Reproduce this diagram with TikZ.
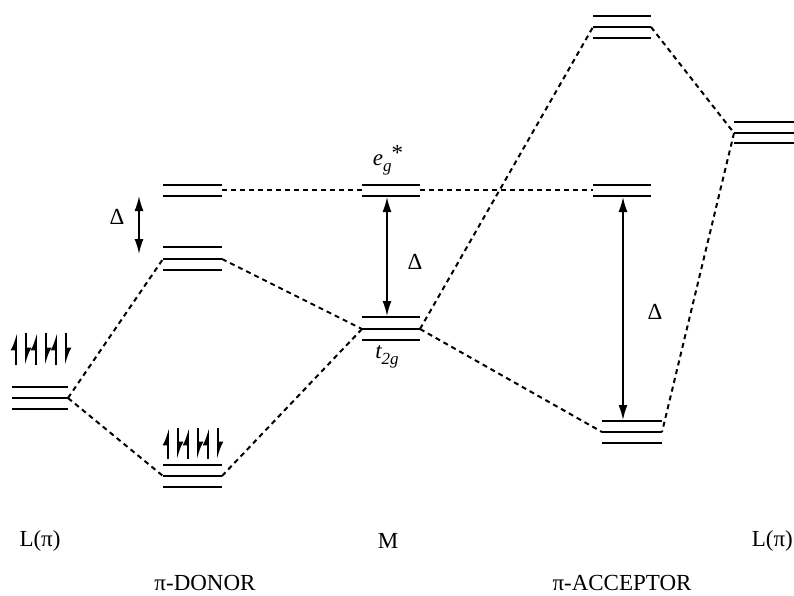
\documentclass[tikz,border=0pt]{standalone}
\usepackage{fontspec}
\setmainfont{Liberation Serif}
\usetikzlibrary{arrows.meta}
\begin{document}
\begin{tikzpicture}[x=1pt,y=-1pt,
  lvl/.style={line width=2pt},
  conn/.style={line width=2pt,dash pattern=on 5pt off 4pt},
  gap/.style={line width=1.6pt,{Latex[length=15pt,width=9pt]}-{Latex[length=15pt,width=9pt]}},
  elu/.style={line width=1.8pt,-{Latex[harpoon,length=14pt,width=11pt]}},
  eld/.style={line width=1.8pt,-{Latex[harpoon,length=14pt,width=11pt]}},
  lab/.style={font=\fontsize{23}{27}\selectfont,inner sep=0pt}]
\useasboundingbox (0,0) rectangle (794,596);
% levels
\foreach \y in {387,398,409} \draw[lvl] (12,\y) -- (68,\y);
\foreach \y in {185,196} \draw[lvl] (163,\y) -- (222,\y);
\foreach \y in {247,259,270} \draw[lvl] (163,\y) -- (222,\y);
\foreach \y in {465,476,487} \draw[lvl] (163,\y) -- (222,\y);
\foreach \y in {185,196} \draw[lvl] (362,\y) -- (420,\y);
\foreach \y in {317,329,340} \draw[lvl] (362,\y) -- (420,\y);
\foreach \y in {16,27,38} \draw[lvl] (593,\y) -- (651,\y);
\foreach \y in {185,196} \draw[lvl] (593,\y) -- (651,\y);
\foreach \y in {421,432,443} \draw[lvl] (602,\y) -- (662,\y);
\foreach \y in {122,133,143} \draw[lvl] (734,\y) -- (794,\y);
% connection points
\coordinate (LL) at (68,398);
\coordinate (DUr) at (222,190);
\coordinate (DMl) at (163,259);
\coordinate (DMr) at (222,259);
\coordinate (DBl) at (163,476);
\coordinate (DBr) at (222,476);
\coordinate (MEl) at (362,190);
\coordinate (MEr) at (420,190);
\coordinate (MTl) at (362,329);
\coordinate (MTr) at (420,329);
\coordinate (ATl) at (593,27);
\coordinate (ATr) at (651,27);
\coordinate (AEl) at (593,190);
\coordinate (ABl) at (602,432);
\coordinate (ABr) at (662,432);
\coordinate (RL) at (734,133);
% dashed connectors
\draw[conn] (LL) -- (DMl);
\draw[conn] (LL) -- (DBl);
\draw[conn] (DMr) -- (MTl);
\draw[conn] (DBr) -- (MTl);
\draw[conn,line width=1.4pt] (DUr) -- (MEl);
\draw[conn,line width=1.4pt] (MEr) -- (AEl);
\draw[conn] (MTr) -- (ATl);
\draw[conn] (MTr) -- (ABl);
\draw[conn] (ATr) -- (RL);
\draw[conn] (RL) -- (ABr);
% electrons
\foreach \x in {16,36,56} {
  \draw[elu] (\x,365) -- (\x,333);
  \draw[eld] (\x+10,333) -- (\x+10,365);
}
\foreach \x in {168,188,208} {
  \draw[elu] (\x,459) -- (\x,428);
  \draw[eld] (\x+10,428) -- (\x+10,459);
}
% gap arrows
\coordinate (g1a) at (139,196); \coordinate (g1b) at (139,254);
\coordinate (g2a) at (387,197); \coordinate (g2b) at (387,316);
\coordinate (g3a) at (623,197); \coordinate (g3b) at (623,420);
\draw[gap] (g1a) -- (g1b);
\draw[gap] (g2a) -- (g2b);
\draw[gap] (g3a) -- (g3b);
\node[lab] (d1) at (117,217) {Δ};
\node[lab] (d2) at (415,262) {Δ};
\node[lab] (d3) at (655,312) {Δ};
% level labels
\node[lab,font=\fontsize{23}{27}\selectfont\itshape] (eg) at (388,160) {e\raisebox{-6pt}{\fontsize{17}{17}\selectfont g}\raisebox{5pt}{\upshape *}};
\node[lab,font=\fontsize{23}{27}\selectfont\itshape] (t2g) at (387,357) {t\raisebox{-6pt}{\fontsize{17}{17}\selectfont 2g}};
% bottom labels
\node[lab] (l1) at (40,541) {L(π)};
\node[lab] (m) at (388,541) {M};
\node[lab,anchor=east] (l2) at (793,541) {L(π)};
\node[lab] (don) at (205,583) {π-DONOR};
\node[lab] (acc) at (622,583) {π-ACCEPTOR};
\end{tikzpicture}
\end{document}
